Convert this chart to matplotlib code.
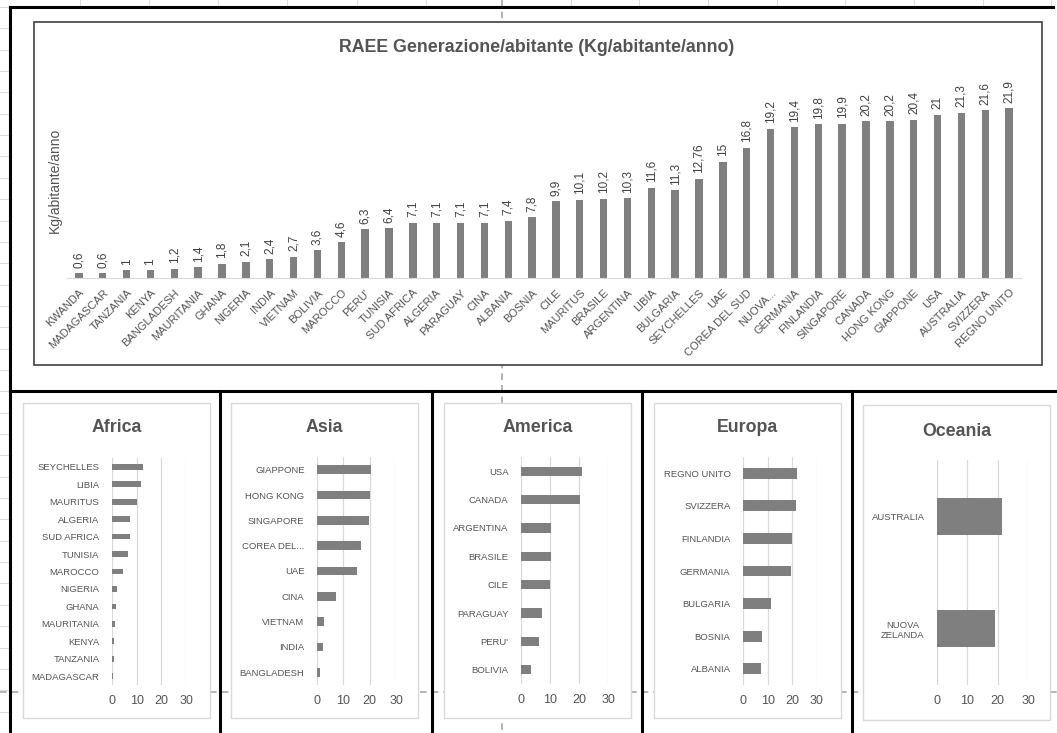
import numpy as np
import matplotlib.pyplot as plt
from matplotlib.patches import Rectangle

# RAEE per abitante (kg/abitante/anno)
paesi = ["KWANDA", "MADAGASCAR", "TANZANIA", "KENYA", "BANGLADESH", "MAURITANIA",
         "GHANA", "NIGERIA", "INDIA", "VIETNAM", "BOLIVIA", "MAROCCO", "PERU'",
         "TUNISIA", "SUD AFRICA", "ALGERIA", "PARAGUAY", "CINA", "ALBANIA", "BOSNIA",
         "CILE", "MAURITUS", "BRASILE", "ARGENTINA", "LIBIA", "BULGARIA", "SEYCHELLES",
         "UAE", "COREA DEL SUD", "NUOVA...", "GERMANIA", "FINLANDIA", "SINGAPORE",
         "CANADA", "HONG KONG", "GIAPPONE", "USA", "AUSTRALIA", "SVIZZERA", "REGNO UNITO"]
valori = [0.6, 0.6, 1, 1, 1.2, 1.4, 1.8, 2.1, 2.4, 2.7, 3.6, 4.6, 6.3, 6.4, 7.1, 7.1,
          7.1, 7.1, 7.4, 7.8, 9.9, 10.1, 10.2, 10.3, 11.6, 11.3, 12.76, 15, 16.8, 19.2,
          19.4, 19.8, 19.9, 20.2, 20.2, 20.4, 21, 21.3, 21.6, 21.9]

africa_paesi = ["SEYCHELLES", "LIBIA", "MAURITUS", "ALGERIA", "SUD AFRICA", "TUNISIA",
                "MAROCCO", "NIGERIA", "GHANA", "MAURITANIA", "KENYA", "TANZANIA", "MADAGASCAR"]
africa_valori = [12.76, 11.6, 10.1, 7.1, 7.1, 6.4, 4.6, 2.1, 1.8, 1.4, 1, 1, 0.6]

asia_paesi = ["GIAPPONE", "HONG KONG", "SINGAPORE", "COREA DEL...", "UAE", "CINA",
              "VIETNAM", "INDIA", "BANGLADESH"]
asia_valori = [20.4, 20.2, 19.9, 16.8, 15, 7.1, 2.7, 2.4, 1.2]

america_paesi = ["USA", "CANADA", "ARGENTINA", "BRASILE", "CILE", "PARAGUAY", "PERU'", "BOLIVIA"]
america_valori = [21, 20.2, 10.3, 10.2, 9.9, 7.1, 6.3, 3.6]

europa_paesi = ["REGNO UNITO", "SVIZZERA", "FINLANDIA", "GERMANIA", "BULGARIA", "BOSNIA", "ALBANIA"]
europa_valori = [21.9, 21.6, 19.8, 19.4, 11.3, 7.8, 7.4]

oceania_paesi = ["AUSTRALIA", "NUOVA\nZELANDA"]
oceania_valori = [21.3, 19.2]

W, H = 1057, 733
GRIGIO_BARRE = '#7f7f7f'
GRIGIO_TESTO = '#545454'

plt.rcParams['font.family'] = ['Liberation Sans', 'DejaVu Sans']


def lab(v):
    return f"{v:g}".replace('.', ',')


def px_axes(x0, y0, x1, y1):
    # axes placed in pixel coordinates (origin top-left)
    ax = fig.add_axes([x0 / W, 1 - y1 / H, (x1 - x0) / W, (y1 - y0) / H])
    ax.patch.set_alpha(0)
    return ax


def px_text(x, y, s, **kw):
    fig.text(x / W, 1 - y / H, s, **kw)


fig = plt.figure(figsize=(W / 100, H / 100), dpi=100)

# sheet background: cell grid, page breaks, borders
bg = fig.add_axes([0, 0, 1, 1])
bg.set_xlim(0, W)
bg.set_ylim(H, 0)
bg.axis('off')
for y in np.arange(7, H, 21.35):
    bg.plot([0, W], [y, y], color='#dcdcdc', lw=0.8, zorder=0)
for x in [80, 149, 218, 287, 357, 426, 571, 639, 708, 777, 845, 914, 983, 1051]:
    bg.plot([x, x], [0, H], color='#dcdcdc', lw=0.8, zorder=0)
bg.add_patch(Rectangle((10, 7), W - 10, H - 7, facecolor='white', edgecolor='none', zorder=1))
bg.plot([502, 502], [0, H], color='#a6a6a6', lw=1.2, ls=(0, (4, 3)), zorder=2)
bg.plot([0, W], [692, 692], color='#a6a6a6', lw=1.2, ls=(0, (4, 3)), zorder=2)

bg.add_patch(Rectangle((34, 22), 1008, 343, facecolor='white', edgecolor='#404040', lw=1.2, zorder=3))
aree = [(23, 403, 210, 718), (231, 403, 418, 718), (444, 403, 631, 718),
        (654, 403, 841, 718), (863, 405, 1050, 720)]
for x0, y0, x1, y1 in aree:
    bg.add_patch(Rectangle((x0, y0), x1 - x0, y1 - y0, facecolor='white',
                           edgecolor='#d9d9d9', lw=1, zorder=3))

bordo = dict(color='black', lw=2.2, zorder=4, solid_capstyle='projecting')
bg.plot([10, 1053], [7, 7], **bordo)
bg.plot([10, 10], [7, H], **bordo)
bg.plot([10, W], [391, 391], **bordo)
for x in [220, 432, 642, 852]:
    bg.plot([x, x], [391, H], **bordo)

# main column chart
ax = px_axes(67, 70, 1021, 278)
x = np.arange(len(paesi))
ax.bar(x, valori, width=0.31, color=GRIGIO_BARRE)
for i, v in enumerate(valori):
    ax.annotate(lab(v), (i, v), xytext=(0, 4), textcoords='offset points',
                rotation=90, ha='center', va='bottom', fontsize=8.5, color='#404040')
ax.set_xlim(-0.5, len(paesi) - 0.5)
ax.set_ylim(0, 208 / 7.76)
ax.set_xticks(x)
ax.set_xticklabels(paesi, rotation=45, ha='right', rotation_mode='anchor',
                   fontsize=8, color=GRIGIO_TESTO)
ax.tick_params(axis='x', length=0, pad=7)
ax.set_yticks([])
for s in ['top', 'left', 'right']:
    ax.spines[s].set_visible(False)
ax.spines['bottom'].set_color('#d9d9d9')

px_text(537, 47, "RAEE Generazione/abitante (Kg/abitante/anno)", ha='center', va='center',
        fontsize=12.8, fontweight='bold', color=GRIGIO_TESTO)
px_text(55, 180, "Kg/abitante/anno", ha='center', va='center', rotation=90,
        fontsize=10, color=GRIGIO_TESTO)

# continent bar charts
regioni = [
    ("Africa", africa_paesi, africa_valori, (112, 458, 186, 685), 427),
    ("Asia", asia_paesi, asia_valori, (317, 457, 396, 685), 427),
    ("America", america_paesi, america_valori, (521, 457, 608, 684), 427),
    ("Europa", europa_paesi, europa_valori, (743, 457, 817, 685), 427),
    ("Oceania", oceania_paesi, oceania_valori, (937, 460, 1028, 685), 432),
]
for (titolo, nomi, vals, pos, ty), area in zip(regioni, aree):
    a = px_axes(*pos)
    a.barh(np.arange(len(nomi)), vals, height=0.33, color=GRIGIO_BARRE, zorder=3)
    a.set_ylim(len(nomi) - 0.5, -0.5)
    a.set_xlim(0, 30)
    a.set_xticks([0, 10, 20, 30])
    a.set_yticks(np.arange(len(nomi)))
    a.set_yticklabels(nomi, fontsize=6.8, color=GRIGIO_TESTO, multialignment='center')
    a.tick_params(axis='y', length=0, pad=9)
    a.tick_params(axis='x', length=0, pad=7, labelsize=9, labelcolor=GRIGIO_TESTO)
    a.grid(axis='x', color='#d9d9d9', lw=0.9, zorder=0)
    for s in a.spines.values():
        s.set_visible(False)
    px_text((area[0] + area[2]) / 2, ty, titolo, ha='center', va='center',
            fontsize=12.8, fontweight='bold', color=GRIGIO_TESTO)

fig.savefig('out.png', dpi=100)
